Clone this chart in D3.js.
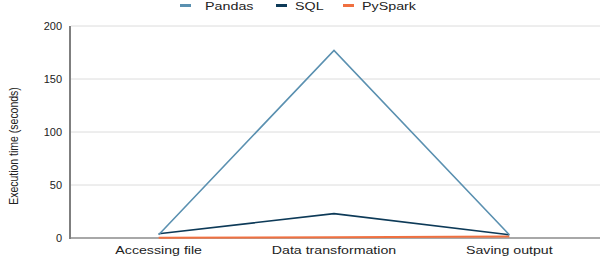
<!DOCTYPE html>
<html><head><meta charset="utf-8">
<script src="https://cdn.jsdelivr.net/npm/d3@7"></script>
<style>body{margin:0;background:#fff}text{font-family:"Liberation Sans",Arial,sans-serif;fill:#222}</style>
</head><body><svg id="c" width="600" height="258"></svg>
<script>
const categories = ["Accessing file", "Data transformation", "Saving output"];
const seriesNames = ["Pandas", "SQL", "PySpark"];
const pandas = [3, 177, 3];
const sql = [4, 23, 3];
const pyspark = [0.3, 0.6, 1.5];
const yTicks = [0, 50, 100, 150, 200];
const colors = ["#5a90b0", "#0d3a58", "#f07040"];

const svg = d3.select("#c");
const m = {l: 71, r: 3, t: 26, b: 20};
const W = 600, H = 258;
const x = d3.scalePoint().domain(categories).range([m.l, W - m.r]).padding(0.5);
const y = d3.scaleLinear().domain([0, 200]).range([238, m.t]);

// gridlines
svg.append("g").selectAll("line").data(yTicks.filter(d => d > 0)).join("line")
  .attr("x1", m.l).attr("x2", W).attr("y1", d => y(d)).attr("y2", d => y(d))
  .attr("stroke", "#dcdcdc").attr("stroke-width", 1);

// y tick labels
svg.append("g").selectAll("text").data(yTicks).join("text")
  .attr("transform", d => `translate(62,${y(d) + 3.6}) scale(1.1,1)`)
  .attr("text-anchor", "end").attr("font-size", 10).text(d => d);

// axis lines
svg.append("line").attr("x1", m.l).attr("x2", W).attr("y1", y(0)).attr("y2", y(0))
  .attr("stroke", "#a8a8a8").attr("stroke-width", 2);
svg.append("line").attr("x1", m.l - 1).attr("x2", m.l - 1).attr("y1", y(200)).attr("y2", y(0) + 1)
  .attr("stroke", "#555").attr("stroke-width", 1.5);

// x labels
svg.append("g").selectAll("text").data(categories).join("text")
  .attr("transform", d => `translate(${x(d)},254) scale(1.35,1)`)
  .attr("text-anchor", "middle").attr("font-size", 10.5).text(d => d);

// y title
svg.append("text").attr("transform", "translate(17.5,146) rotate(-90) scale(1,1.2)")
  .attr("text-anchor", "middle").attr("font-size", 10.5).text("Execution time (seconds)");

// lines
const data = [pandas, sql, pyspark];
const line = d3.line().x((d, i) => x(categories[i])).y(d => y(d));
[2, 1, 0].forEach(k => {
  svg.append("path").attr("d", line(data[k])).attr("fill", "none")
    .attr("stroke", colors[k]).attr("stroke-width", k === 2 ? 2 : 1.6).attr("stroke-linejoin", "miter");
});

// legend
const legX = [180, 276, 343];
const legT = [205, 295, 362];
seriesNames.forEach((s, i) => {
  svg.append("line").attr("x1", legX[i]).attr("x2", legX[i] + 11).attr("y1", 5.5).attr("y2", 5.5)
    .attr("stroke", colors[i]).attr("stroke-width", 3);
  svg.append("text").attr("transform", `translate(${legT[i]},9.8) scale(1.3,1)`)
    .attr("font-size", 11).text(s);
});
</script></body></html>
